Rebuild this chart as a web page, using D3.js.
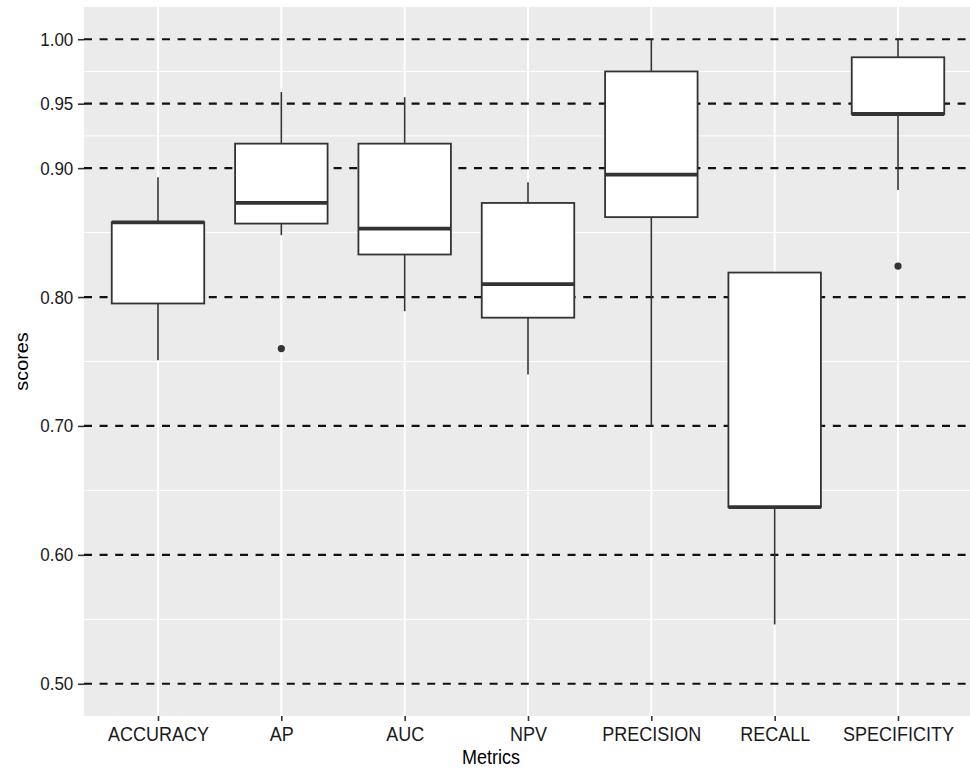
<!DOCTYPE html>
<html>
<head>
<meta charset="utf-8">
<script src="https://cdn.jsdelivr.net/npm/d3@7"></script>
<style>
  html, body { margin: 0; padding: 0; background: #ffffff; }
  svg { display: block; }
  text { font-family: "Liberation Sans", Arial, Helvetica, sans-serif; }
</style>
</head>
<body>
<svg id="chart" width="970" height="768"></svg>
<script>
// ---- data ----
const categories = ["ACCURACY", "AP", "AUC", "NPV", "PRECISION", "RECALL", "SPECIFICITY"];
const whiskerLow  = [0.751, 0.848, 0.789, 0.740, 0.700, 0.546, 0.883];
const q1Values    = [0.795, 0.857, 0.833, 0.784, 0.862, 0.637, 0.942];
const medians     = [0.858, 0.873, 0.853, 0.810, 0.895, 0.637, 0.942];
const q3Values    = [0.858, 0.919, 0.919, 0.873, 0.975, 0.819, 0.986];
const whiskerHigh = [0.893, 0.959, 0.955, 0.889, 1.000, 0.819, 1.000];
const outliers    = [[], [0.760], [], [], [], [], [0.824]];
const yTickValues = [0.50, 0.60, 0.70, 0.80, 0.90, 0.95, 1.00];
const yMinorValues = [0.55, 0.65, 0.75, 0.85, 0.925, 0.975];
const refLines    = [0.50, 0.60, 0.70, 0.80, 0.90, 0.95, 1.00];
const xTitle = "Metrics";
const yTitle = "scores";

const boxes = categories.map((c, i) => ({
  cat: c, lo: whiskerLow[i], q1: q1Values[i], med: medians[i],
  q3: q3Values[i], hi: whiskerHigh[i], out: outliers[i]
}));

// ---- layout ----
const svg = d3.select("#chart");
const panel = { left: 84, right: 972, top: 7, bottom: 716 };
const stretch = 1.1;

const x = d3.scalePoint().domain(categories).range([panel.left, panel.right]).padding(0.6);
const y = d3.scaleLinear().domain([0.475, 1.025]).range([panel.bottom, panel.top]);
const boxW = x.step() * 0.75;

// panel background
svg.append("rect")
  .attr("x", panel.left).attr("y", panel.top)
  .attr("width", panel.right - panel.left).attr("height", panel.bottom - panel.top)
  .attr("fill", "#EBEBEB");

// minor horizontal grid
svg.append("g").selectAll("line").data(yMinorValues).join("line")
  .attr("x1", panel.left).attr("x2", panel.right)
  .attr("y1", d => y(d)).attr("y2", d => y(d))
  .attr("stroke", "#ffffff").attr("stroke-width", 1);

// major vertical grid
svg.append("g").selectAll("line").data(categories).join("line")
  .attr("x1", d => x(d)).attr("x2", d => x(d))
  .attr("y1", panel.top).attr("y2", panel.bottom)
  .attr("stroke", "#ffffff").attr("stroke-width", 2);

// dashed reference lines
svg.append("g").selectAll("line").data(refLines).join("line")
  .attr("x1", panel.left).attr("x2", panel.right)
  .attr("y1", d => y(d)).attr("y2", d => y(d))
  .attr("stroke", "#111111").attr("stroke-width", 2.2)
  .attr("stroke-dasharray", "8,7.6");

// boxplots
const g = svg.append("g").selectAll("g").data(boxes).join("g");
g.append("line")
  .attr("x1", d => x(d.cat)).attr("x2", d => x(d.cat))
  .attr("y1", d => y(d.hi)).attr("y2", d => y(d.q3))
  .attr("stroke", "#333333").attr("stroke-width", 1.6);
g.append("line")
  .attr("x1", d => x(d.cat)).attr("x2", d => x(d.cat))
  .attr("y1", d => y(d.q1)).attr("y2", d => y(d.lo))
  .attr("stroke", "#333333").attr("stroke-width", 1.6);
g.append("rect")
  .attr("x", d => x(d.cat) - boxW / 2).attr("width", boxW)
  .attr("y", d => y(d.q3)).attr("height", d => y(d.q1) - y(d.q3))
  .attr("fill", "#ffffff").attr("stroke", "#333333").attr("stroke-width", 1.8);
g.append("line")
  .attr("x1", d => x(d.cat) - boxW / 2).attr("x2", d => x(d.cat) + boxW / 2)
  .attr("y1", d => y(d.med)).attr("y2", d => y(d.med))
  .attr("stroke", "#333333").attr("stroke-width", 3.8);
g.selectAll("circle").data(d => d.out.map(v => ({ cat: d.cat, v }))).join("circle")
  .attr("cx", d => x(d.cat)).attr("cy", d => y(d.v)).attr("r", 3.6)
  .attr("fill", "#333333");

// axes
const yAxis = svg.append("g").attr("transform", `translate(${panel.left},0)`)
  .call(d3.axisLeft(y).tickValues(yTickValues).tickFormat(d3.format(".2f")).tickSize(6).tickPadding(4.7));
yAxis.select(".domain").remove();
yAxis.selectAll(".tick line").attr("stroke", "#333333").attr("stroke-width", 1.6);
yAxis.selectAll(".tick text")
  .attr("font-size", 17).attr("fill", "#1a1a1a")
  .attr("transform", `scale(1,${stretch})`);

const xAxis = svg.append("g").attr("transform", `translate(0,${panel.bottom})`)
  .call(d3.axisBottom(x).tickSize(5).tickPadding(5));
xAxis.select(".domain").remove();
xAxis.selectAll(".tick line").attr("stroke", "#333333").attr("stroke-width", 1.6);
xAxis.selectAll(".tick text")
  .attr("font-size", 18).attr("fill", "#1a1a1a")
  .attr("transform", `scale(1,${stretch})`);

// titles
svg.append("text")
  .attr("transform", `translate(491,764) scale(1,${stretch})`)
  .attr("text-anchor", "middle").attr("font-size", 18).attr("fill", "#000")
  .text(xTitle);
svg.append("text")
  .attr("transform", `translate(28,${(panel.top + panel.bottom) / 2}) rotate(-90) scale(${stretch},1)`)
  .attr("text-anchor", "middle").attr("font-size", 18).attr("fill", "#000")
  .text(yTitle);
</script>
</body>
</html>
